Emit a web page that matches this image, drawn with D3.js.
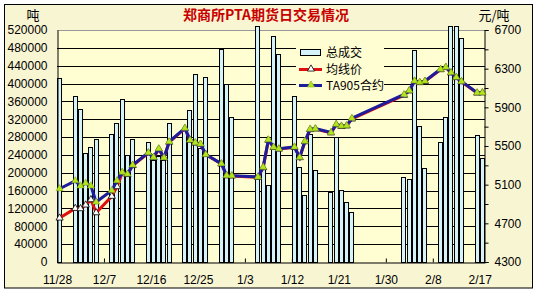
<!DOCTYPE html>
<html>
<head>
<meta charset="utf-8">
<script src="https://cdn.jsdelivr.net/npm/d3@7"></script>
<style>
  body { margin: 0; background: #fff; }
  svg text { font-family: "Liberation Sans", Arial, sans-serif; }
</style>
</head>
<body>
<div id="chart"></div>
<script>
// trading days shown on the chart
const dates = [
  "2008-11-28",
  "2008-12-01", "2008-12-02", "2008-12-03", "2008-12-04", "2008-12-05",
  "2008-12-08", "2008-12-09", "2008-12-10", "2008-12-11", "2008-12-12",
  "2008-12-15", "2008-12-16", "2008-12-17", "2008-12-18", "2008-12-19",
  "2008-12-22", "2008-12-23", "2008-12-24", "2008-12-25", "2008-12-26",
  "2008-12-29", "2008-12-30", "2008-12-31",
  "2009-01-05", "2009-01-06", "2009-01-07", "2009-01-08", "2009-01-09",
  "2009-01-12", "2009-01-13", "2009-01-14", "2009-01-15", "2009-01-16",
  "2009-01-19", "2009-01-20", "2009-01-21", "2009-01-22", "2009-01-23",
  "2009-02-02", "2009-02-03", "2009-02-04", "2009-02-05", "2009-02-06",
  "2009-02-09", "2009-02-10", "2009-02-11", "2009-02-12", "2009-02-13",
  "2009-02-16", "2009-02-17"
];
// 总成交 (吨)
const volume = [
  412000,
  373000, 344000, 244000, 258000, 276000,
  287000, 311000, 365000, 240000, 276000,
  270000, 229000, 238000, 228000, 311000,
  300000, 341000, 421000, 255000, 414000,
  477000, 400000, 324000,
  528000, 212000, 173000, 506000, 466000,
  372000, 214000, 150000, 288000, 206000,
  156000, 281000, 161000, 134000, 111000,
  190000, 186000, 475000, 305000, 210000,
  268000, 324000, 528000, 528000, 503000,
  285000, 232000
];
// 均线价 (元/吨)
const avgPrice = [
  4755,
  4855, 4852, 4890, 4945, 4810,
  4980, 5080, 5222, 5205, 5298,
  5428, 5380, 5468, 5376, 5540,
  5680, 5560, 5530, 5518, 5412,
  5314, 5192, 5190,
  5176, 5276, 5560, 5485, 5468,
  5486, 5380, 5545, 5670, 5676,
  5636, 5720, 5703, 5708, 5780,
  6025, 6070, 6170, 6156, 6168,
  6290, 6312, 6256, 6208, 6165,
  6048, 6050
];
// TA905合约 (元/吨)
const ta905 = [
  5058,
  5140, 5088, 5116, 5087, 4920,
  5040, 5142, 5230, 5210, 5303,
  5431, 5385, 5472, 5380, 5545,
  5685, 5562, 5536, 5521, 5412,
  5318, 5196, 5193,
  5180, 5282, 5565, 5488, 5472,
  5490, 5383, 5550, 5675, 5680,
  5640, 5725, 5707, 5712, 5787,
  6033, 6075, 6174, 6160, 6172,
  6295, 6315, 6260, 6211, 6168,
  6052, 6052
];
const xTicks = ["2008-11-28", "2008-12-07", "2008-12-16", "2008-12-25", "2009-01-03",
  "2009-01-12", "2009-01-21", "2009-01-30", "2009-02-08", "2009-02-17"];
const volTicks = d3.range(0, 520001, 40000);
const priceTicks = d3.range(4300, 6701, 200);

const parse = d3.utcParse("%Y-%m-%d");
const W = 536, H = 294;
const plot = { left: 57, right: 485, top: 30, bottom: 262 };

const svg = d3.select("#chart").append("svg")
  .attr("width", W).attr("height", H);

// chart frame and plot background
svg.append("rect").attr("x", 4.5).attr("y", 4.5).attr("width", 528).attr("height", 283.5)
  .attr("fill", "#f8f5d3").attr("stroke", "#000");
svg.append("rect").attr("x", plot.left).attr("y", plot.top)
  .attr("width", plot.right - plot.left).attr("height", plot.bottom - plot.top)
  .attr("fill", "#fffdd2");

const x = d3.scaleUtc()
  .domain([parse("2008-11-28"), parse("2009-02-18")])
  .range([plot.left, plot.right]);
const slot = x(parse("2008-11-29")) - x(parse("2008-11-28"));
const yVol = d3.scaleLinear().domain([0, 520000]).range([plot.bottom, plot.top]);
const yPrice = d3.scaleLinear().domain([4300, 6700]).range([plot.bottom, plot.top]);

// gridlines
svg.append("g").selectAll("line").data(volTicks.filter(v => v > 0)).join("line")
  .attr("x1", plot.left).attr("x2", plot.right)
  .attr("y1", d => Math.round(yVol(d)) + 0.5).attr("y2", d => Math.round(yVol(d)) + 0.5)
  .attr("stroke", d => d === 520000 ? "#999" : "#000");

// bars
const rows = dates.map((d, i) => ({ date: parse(d), vol: volume[i], avg: avgPrice[i], ta: ta905[i] }));
svg.append("g").selectAll("rect").data(rows).join("rect")
  .attr("x", d => Math.round(x(d.date)) + 0.5)
  .attr("y", d => Math.round(yVol(d.vol)) + 0.5)
  .attr("width", slot - 1.2)
  .attr("height", d => plot.bottom - Math.round(yVol(d.vol)))
  .attr("fill", "#d5f3f8")
  .attr("stroke", "#000");

// axes
const leftAxis = svg.append("g").attr("transform", `translate(${plot.left + 0.5},0)`)
  .call(d3.axisLeft(yVol).tickValues(volTicks).tickSize(0).tickPadding(10)
    .tickFormat(d3.format("d")));
const rightAxis = svg.append("g").attr("transform", `translate(${plot.right - 0.5},0)`)
  .call(d3.axisRight(yPrice).tickValues(priceTicks).tickSize(4).tickPadding(6)
    .tickFormat(d => (d - 4300) % 400 === 0 ? d : ""));
const bottomAxis = svg.append("g").attr("transform", `translate(0,${plot.bottom + 0.5})`)
  .call(d3.axisBottom(x).tickValues(xTicks.map(parse)).tickSizeInner(-4).tickSizeOuter(0)
    .tickPadding(13).tickFormat(d3.utcFormat("%-m/%-d")));
[leftAxis, rightAxis, bottomAxis].forEach(g => {
  g.selectAll("text").attr("font-size", 12).attr("fill", "#000")
    .style("font-family", "'Liberation Sans', Arial, sans-serif");
  g.selectAll("path, line").attr("stroke", "#000");
});

// price lines
const cx = d => x(d.date) + slot / 2;
const tri = d3.symbol(d3.symbolTriangle, 22);

svg.append("path").datum(rows)
  .attr("d", d3.line().x(cx).y(d => yPrice(d.avg)))
  .attr("fill", "none").attr("stroke", "#e01010").attr("stroke-width", 3);
svg.append("g").selectAll("path").data(rows).join("path")
  .attr("d", tri)
  .attr("transform", d => `translate(${cx(d)},${yPrice(d.avg)})`)
  .attr("fill", "#fff").attr("stroke", "#000").attr("stroke-width", 0.8);

svg.append("path").datum(rows)
  .attr("d", d3.line().x(cx).y(d => yPrice(d.ta)))
  .attr("fill", "none").attr("stroke", "#1c1c9c").attr("stroke-width", 3);
svg.append("g").selectAll("path").data(rows).join("path")
  .attr("d", tri)
  .attr("transform", d => `translate(${cx(d)},${yPrice(d.ta)})`)
  .attr("fill", "#b4e41c").attr("stroke", "#7aa010").attr("stroke-width", 0.5);

// legend
const lg = svg.append("g");
lg.append("rect").attr("x", 296).attr("y", 42).attr("width", 88).attr("height", 54)
  .attr("fill", "#fffdd2");
lg.append("rect").attr("x", 300.5).attr("y", 49.5).attr("width", 20).attr("height", 6)
  .attr("fill", "#d5f3f8").attr("stroke", "#000");
lg.append("line").attr("x1", 299).attr("x2", 322).attr("y1", 69.5).attr("y2", 69.5)
  .attr("stroke", "#e01010").attr("stroke-width", 3);
lg.append("path").attr("d", tri).attr("transform", "translate(311,69)")
  .attr("fill", "#fff").attr("stroke", "#000").attr("stroke-width", 0.8);
lg.append("line").attr("x1", 299).attr("x2", 322).attr("y1", 85.5).attr("y2", 85.5)
  .attr("stroke", "#1c1c9c").attr("stroke-width", 3);
lg.append("path").attr("d", tri).attr("transform", "translate(311,85)")
  .attr("fill", "#b4e41c").attr("stroke", "#7aa010").attr("stroke-width", 0.5);
const legendNames = ["总成交", "均线价", "TA905合约"];
lg.selectAll("text.name").data(legendNames).join("text")
  .attr("class", "name")
  .attr("x", 326).attr("y", (d, i) => 57 + i * 16.5)
  .attr("font-size", 12)
  .style("font-family", "'Noto Sans CJK SC', sans-serif")
  .text(d => d);

// title and units
svg.append("text").attr("x", 266).attr("y", 20).attr("text-anchor", "middle")
  .attr("font-size", 14).attr("font-weight", "bold").attr("fill", "#c80000")
  .style("font-family", "'Noto Sans CJK SC', sans-serif")
  .text("郑商所PTA期货日交易情况");
svg.append("text").attr("x", 33).attr("y", 20).attr("text-anchor", "middle")
  .attr("font-size", 13).style("font-family", "'Noto Sans CJK SC', sans-serif")
  .text("吨");
svg.append("text").attr("x", 494).attr("y", 20).attr("text-anchor", "middle")
  .attr("font-size", 13).style("font-family", "'Noto Sans CJK SC', sans-serif")
  .text("元/吨");
</script>
</body>
</html>
